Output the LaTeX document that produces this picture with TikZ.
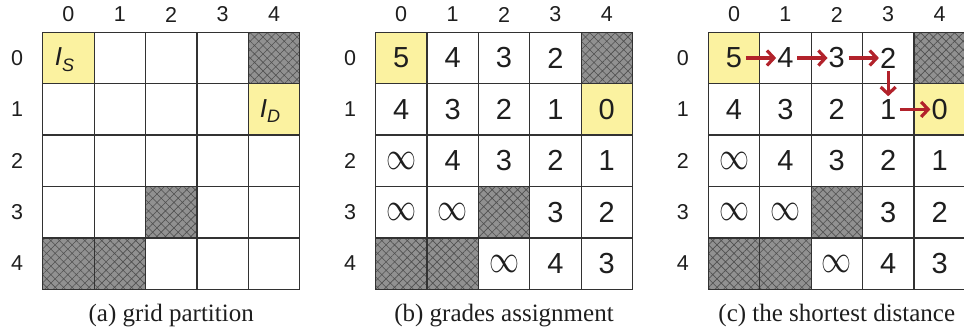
\documentclass[tikz,border=0pt]{standalone}
\usepackage{fontspec}
\usepackage{graphicx}
\setmainfont{Liberation Serif}
\newfontfamily\arialf{Liberation Sans}
\usetikzlibrary{patterns.meta,arrows.meta}
\definecolor{hl}{RGB}{251,242,160}
\definecolor{blk}{RGB}{145,145,145}
\definecolor{blkline}{RGB}{80,80,80}
\definecolor{arr}{RGB}{178,34,43}
\definecolor{gridc}{RGB}{50,50,50}
\definecolor{txt}{RGB}{30,30,30}
\newcommand{\infsym}{\resizebox{30pt}{17pt}{$\infty$}}
\tikzset{
 cellval/.style={inner sep=0pt, font=\arialf\fontsize{29}{29}\selectfont, text=txt},
 axislbl/.style={inner sep=0pt, font=\arialf\fontsize{21.5}{21.5}\selectfont, text=txt},
 captionlbl/.style={inner sep=0pt, anchor=base, font=\fontsize{25}{25}\selectfont, text=txt},
 hlcell/.style={fill=hl},
 blkcell/.style={fill=blk, postaction={pattern={Hatch[angle=45,distance=6pt,line width=0.6pt]}, pattern color=blkline}},
 gridline/.style={draw=gridc, line width=1.2pt, line cap=rect},
 patharrow/.style={draw=arr, line width=3.4pt, -{Straight Barb[length=7pt,width=15pt,line width=3.2pt]}},
}
\begin{document}
\begin{tikzpicture}[x=1pt,y=-1pt]
\useasboundingbox (0,0) rectangle (964,334);
\def\s{51.4}
\foreach \p/\ox/\cap in {a/42.7/{(a) grid partition},b/375.5/{(b) grades assignment},c/708.3/{(c) the shortest distance}}{
 \begin{scope}[shift={(\ox,32.3)}]
  % highlighted cells
  \foreach \r/\c in {0/0,1/4}
   \fill[hlcell] (\c*\s,\r*\s) rectangle ++(\s,\s);
  % blocked cells
  \foreach \r/\c in {0/4,3/2,4/0,4/1}
   \path[blkcell] (\c*\s,\r*\s) rectangle ++(\s,\s);
  % grid
  \foreach \i in {0,...,5}{
   \draw[gridline] (\i*\s,0) -- (\i*\s,5*\s);
   \draw[gridline] (0,\i*\s) -- (5*\s,\i*\s);
  }
  % axis labels
  \foreach \i in {0,...,4}{
   \node[axislbl] (\p-col\i) at (\i*\s+0.5*\s,-17.8) {\i};
   \node[axislbl] (\p-row\i) at (-25.5,\i*\s+0.5*\s) {\i};
  }
  \node[captionlbl] (\p-cap) at (2.5*\s,289) {\cap};
 \end{scope}
}
% panel (a) labels
\begin{scope}[shift={(42.7,32.3)}]
 \node[cellval] (a-0-0) at (0.5*\s-4,0.5*\s+1.5) {\fontsize{26}{26}\selectfont\itshape I\raisebox{-5.5pt}{\fontsize{18}{18}\selectfont S}};
 \node[cellval] (a-1-4) at (4.5*\s-4,1.5*\s+1.5) {\fontsize{26}{26}\selectfont\itshape I\raisebox{-5.5pt}{\fontsize{18}{18}\selectfont D}};
\end{scope}
% grades in panels (b) and (c)
\foreach \p/\ox in {b/375.5,c/708.3}{
 \begin{scope}[shift={(\ox,32.3)}]
  \foreach \r/\c/\v in {0/0/5,0/1/4,0/2/3,0/3/2,1/0/4,1/1/3,1/2/2,1/3/1,1/4/0,2/0/\infsym,2/1/4,2/2/3,2/3/2,2/4/1,3/0/\infsym,3/1/\infsym,3/3/3,3/4/2,4/2/\infsym,4/3/4,4/4/3}
   \node[cellval] (\p-\r-\c) at (\c*\s+0.5*\s,\r*\s+0.5*\s) {\v};
 \end{scope}
}
% shortest path arrows
\draw[patharrow, shorten <=3.5pt, shorten >=1pt] (c-0-0) -- (c-0-1);
\draw[patharrow, shorten <=3.5pt, shorten >=1pt] (c-0-1) -- (c-0-2);
\draw[patharrow, shorten <=3.5pt, shorten >=1pt] (c-0-2) -- (c-0-3);
\draw[patharrow, shorten <=3pt, shorten >=3pt] (c-0-3) -- (c-1-3);
\draw[patharrow, shorten <=3.5pt, shorten >=1pt] (c-1-3) -- (c-1-4);
\end{tikzpicture}
\end{document}
